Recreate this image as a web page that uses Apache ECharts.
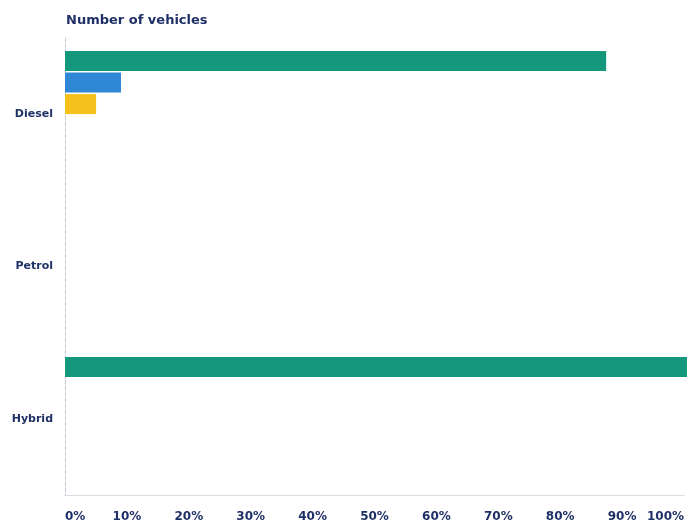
<!DOCTYPE html>
<html>
<head>
<meta charset="utf-8">
<script src="https://cdn.jsdelivr.net/npm/echarts@6/dist/echarts.min.js"></script>
<style>
  html, body { margin: 0; padding: 0; background: #ffffff; }
  #chart { width: 687px; height: 529px; }
</style>
</head>
<body>
<div id="chart"></div>
<script>
// Fuel types shown on the vertical axis
const fuelTypes = ['Diesel', 'Petrol', 'Hybrid'];

// Share of vehicles (%) per fuel type for each group
const greenValues = [87, 0, 100];
const blueValues = [9, 0, 0];
const yellowValues = [5, 0, 0];

// Percentage ticks along the horizontal axis
const percentTicks = [0, 10, 20, 30, 40, 50, 60, 70, 80, 90, 100];

const navy = '#1f3066';
const font = '"DejaVu Sans", Lato, sans-serif';

const chart = echarts.init(document.getElementById('chart'), null, { renderer: 'canvas' });

chart.setOption({
  backgroundColor: '#ffffff',
  animation: false,
  title: {
    text: 'Number of vehicles',
    left: 61,
    top: 9,
    textStyle: { fontFamily: font, fontWeight: 'bold', fontSize: 13, color: navy }
  },
  grid: [
    // frame carrying the visible axes and labels
    { left: 65, right: 1, top: 38, bottom: 34, containLabel: false },
    // frame carrying the bars, sitting slightly higher than the labels
    { left: 65, right: 0, top: 6, bottom: 64, containLabel: false }
  ],
  xAxis: [
    {
      gridIndex: 0,
      type: 'value',
      min: percentTicks[0],
      max: percentTicks[percentTicks.length - 1],
      interval: 10,
      axisLine: { show: true, lineStyle: { color: '#d3d6de', type: 'dotted', width: 1 } },
      axisTick: { show: false },
      splitLine: { show: false },
      axisLabel: {
        formatter: '{value}%',
        margin: 16,
        color: navy,
        fontFamily: font,
        fontWeight: 'bold',
        fontSize: 12,
        alignMinLabel: 'left',
        alignMaxLabel: 'right'
      }
    },
    {
      gridIndex: 1,
      type: 'value',
      min: percentTicks[0],
      max: percentTicks[percentTicks.length - 1],
      show: false
    }
  ],
  yAxis: [
    {
      gridIndex: 0,
      type: 'category',
      data: fuelTypes,
      inverse: true,
      axisLine: { show: true, lineStyle: { color: '#c9ccd8', type: 'dashed', width: 1 } },
      axisTick: { show: false },
      splitLine: { show: false },
      axisLabel: {
        margin: 12,
        color: navy,
        fontFamily: font,
        fontWeight: 'bold',
        fontSize: 11
      }
    },
    {
      gridIndex: 1,
      type: 'category',
      data: fuelTypes,
      inverse: true,
      show: false
    }
  ],
  series: [
    {
      name: 'Group 1',
      type: 'bar',
      xAxisIndex: 1,
      yAxisIndex: 1,
      data: greenValues,
      barWidth: 20,
      barGap: '8%',
      itemStyle: { color: '#14977a' }
    },
    {
      name: 'Group 2',
      type: 'bar',
      xAxisIndex: 1,
      yAxisIndex: 1,
      data: blueValues,
      barWidth: 20,
      barGap: '8%',
      itemStyle: { color: '#2f87d6' }
    },
    {
      name: 'Group 3',
      type: 'bar',
      xAxisIndex: 1,
      yAxisIndex: 1,
      data: yellowValues,
      barWidth: 20,
      barGap: '8%',
      itemStyle: { color: '#f3c01c' }
    }
  ]
});
</script>
</body>
</html>
